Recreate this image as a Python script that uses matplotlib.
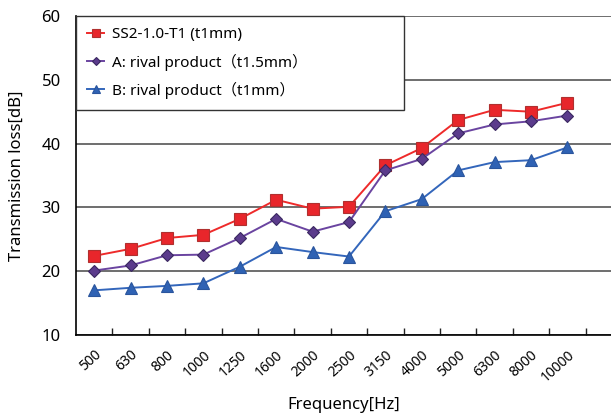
import numpy as np
import matplotlib.pyplot as plt

plt.rcParams['font.family'] = ['Noto Sans', 'Noto Sans CJK JP', 'DejaVu Sans']

freqs = ['500', '630', '800', '1000', '1250', '1600', '2000', '2500',
         '3150', '4000', '5000', '6300', '8000', '10000']
ss2 = [22.4, 23.5, 25.2, 25.7, 28.2, 31.2, 29.8, 30.1, 36.6, 39.3, 43.7, 45.3, 45.0, 46.4]
rival_a = [20.1, 20.9, 22.5, 22.6, 25.2, 28.2, 26.2, 27.7, 35.8, 37.6, 41.6, 43.0, 43.5, 44.4]
rival_b = [17.0, 17.4, 17.7, 18.1, 20.7, 23.8, 23.0, 22.3, 29.4, 31.3, 35.8, 37.1, 37.4, 39.4]

fig = plt.figure(figsize=(6.11, 4.16), dpi=100)
ax = fig.add_axes([0.1244, 0.1947, 0.8756, 0.7668])

x = np.arange(len(freqs))
ax.plot(x, ss2, color='#ee2a2a', lw=1.4, marker='s', ms=8.5,
        mfc='#e8262b', mec='#b0302f', mew=0.8, label='SS2-1.0-T1 (t1mm)', zorder=4)
ax.plot(x, rival_a, color='#6a44a0', lw=1.4, marker='D', ms=6.5,
        mfc='#5b3b8c', mec='#3a2860', mew=0.8, label='A: rival product（t1.5mm）', zorder=4)
ax.plot(x, rival_b, color='#3366bb', lw=1.4, marker='^', ms=9,
        mfc='#2f62b4', mec='#2a559d', mew=0.8, label='B: rival product（t1mm）', zorder=4)

ax.set_ylim(10, 60)
ax.set_yticks([10, 20, 30, 40, 50, 60])
ax.set_xlim(-0.5, 14.2)
ax.set_xticks(x)
ax.set_xticklabels(freqs, rotation=42, ha='right', rotation_mode='anchor', fontsize=10)
ax.set_xticks(np.arange(0.5, 14, 1), minor=True)
ax.tick_params(axis='x', which='major', length=0, pad=9)
ax.tick_params(axis='x', which='minor', direction='in', length=5, width=1, colors='#222222')
ax.tick_params(axis='y', length=0, labelsize=12, pad=11)

ax.grid(axis='y', color='#555555', lw=1.2)
ax.set_axisbelow(True)
for s in ['top', 'right']:
    ax.spines[s].set_visible(False)
ax.spines['left'].set_linewidth(1.2)
ax.spines['bottom'].set_linewidth(1.2)

ax.set_xlabel('Frequency[Hz]', fontsize=12, labelpad=9)
ax.set_ylabel('Transmission loss[dB]', fontsize=12, labelpad=12)

# legend box is wider than its content in the reference
leg_w = 328 / 535
leg_h = 90 / 319
leg = ax.legend(loc='upper left', bbox_to_anchor=(0.0, 1.0 - leg_h, leg_w, leg_h),
                mode='expand', fontsize=11,
                frameon=True, fancybox=False, borderaxespad=0,
                handlelength=1.1, handletextpad=0.5, labelspacing=0.72,
                borderpad=0.75, markerscale=0.7)
leg.get_frame().set_edgecolor('#333333')
leg.get_frame().set_linewidth(1.0)
leg.get_frame().set_alpha(1)

fig.savefig('out.png', dpi=100)
